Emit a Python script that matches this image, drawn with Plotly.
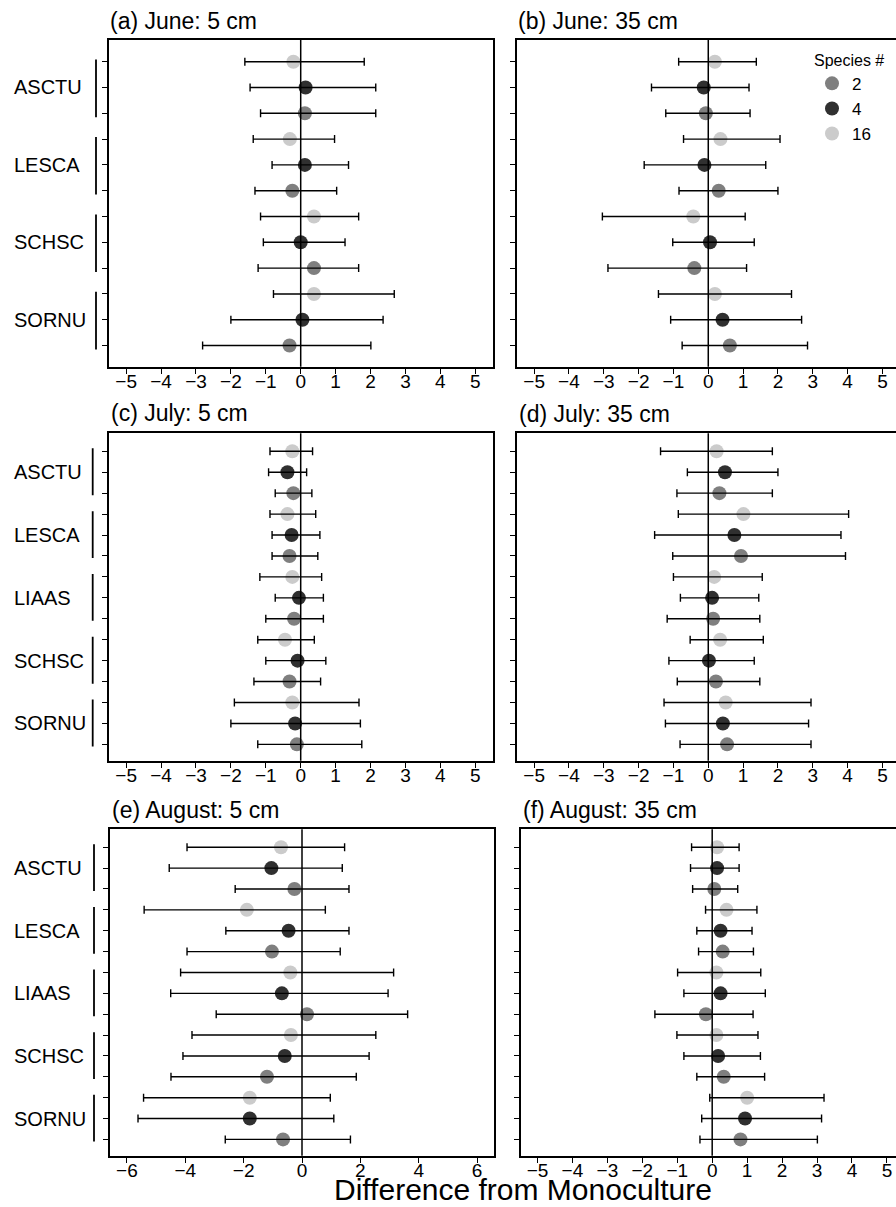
import plotly.graph_objects as go

# ---------------- data ----------------
species_june = ["ASCTU", "LESCA", "SCHSC", "SORNU"]
species_julaug = ["ASCTU", "LESCA", "LIAAS", "SCHSC", "SORNU"]
richness_levels = [2, 4, 16]          # legend order
richness_row_order = [16, 4, 2]       # order of rows inside each species block
richness_colors = {2: "#7f7f7f", 4: "#303030", 16: "#cbcbcb"}

june5_est = [-0.21, 0.14, 0.12, -0.31, 0.12, -0.24, 0.38, 0.00, 0.38, 0.38, 0.05, -0.32]
june5_lo = [-1.60, -1.45, -1.15, -1.36, -0.82, -1.31, -1.15, -1.07, -1.22, -0.78, -2.00, -2.81]
june5_hi = [1.82, 2.15, 2.15, 0.97, 1.37, 1.03, 1.66, 1.27, 1.66, 2.68, 2.36, 2.01]

june35_est = [0.19, -0.13, -0.07, 0.35, -0.11, 0.30, -0.43, 0.05, -0.40, 0.19, 0.41, 0.62]
june35_lo = [-0.85, -1.63, -1.22, -0.71, -1.84, -0.84, -3.04, -1.02, -2.88, -1.43, -1.08, -0.75]
june35_hi = [1.38, 1.17, 1.20, 2.06, 1.65, 2.00, 1.06, 1.32, 1.10, 2.39, 2.68, 2.85]

july5_est = [-0.24, -0.38, -0.21, -0.38, -0.26, -0.32, -0.24, -0.05, -0.19, -0.45, -0.09, -0.32, -0.24, -0.16, -0.11]
july5_lo = [-0.88, -0.92, -0.73, -0.88, -0.82, -0.82, -1.17, -0.73, -1.00, -1.23, -1.00, -1.34, -1.90, -2.00, -1.23]
july5_hi = [0.34, 0.17, 0.32, 0.43, 0.55, 0.49, 0.60, 0.65, 0.65, 0.39, 0.72, 0.57, 1.67, 1.71, 1.75]

july35_est = [0.24, 0.48, 0.32, 1.01, 0.75, 0.94, 0.17, 0.11, 0.14, 0.34, 0.02, 0.22, 0.50, 0.42, 0.54]
july35_lo = [-1.37, -0.60, -0.90, -0.86, -1.54, -1.02, -1.00, -0.80, -1.18, -0.52, -1.13, -0.89, -1.27, -1.23, -0.81]
july35_hi = [1.84, 2.00, 1.84, 4.03, 3.81, 3.94, 1.55, 1.45, 1.48, 1.58, 1.32, 1.48, 2.95, 2.88, 2.95]

aug5_est = [-0.72, -1.05, -0.26, -1.89, -0.46, -1.03, -0.40, -0.69, 0.17, -0.38, -0.59, -1.20, -1.79, -1.79, -0.65]
aug5_lo = [-3.94, -4.55, -2.29, -5.41, -2.61, -3.94, -4.16, -4.50, -2.94, -3.77, -4.08, -4.49, -5.43, -5.62, -2.63]
aug5_hi = [1.46, 1.38, 1.61, 0.80, 1.61, 1.31, 3.14, 2.95, 3.62, 2.53, 2.30, 1.86, 0.97, 1.09, 1.66]

aug35_est = [0.14, 0.14, 0.06, 0.41, 0.24, 0.30, 0.12, 0.24, -0.18, 0.12, 0.17, 0.33, 1.00, 0.94, 0.81]
aug35_lo = [-0.59, -0.62, -0.56, -0.19, -0.44, -0.39, -0.99, -0.81, -1.64, -1.01, -0.81, -0.44, -0.07, -0.30, -0.35]
aug35_hi = [0.77, 0.77, 0.73, 1.28, 1.14, 1.18, 1.39, 1.52, 1.17, 1.31, 1.38, 1.50, 3.20, 3.13, 3.01]

ticks_5 = [-5, -4, -3, -2, -1, 0, 1, 2, 3, 4, 5]
ticks_6 = [-6, -4, -2, 0, 2, 4, 6]

# ---------------- layout geometry ----------------
W, H = 896, 1207
FONT = "Liberation Sans, Arial, Helvetica, sans-serif"

panels = [
    dict(title="(a) June: 5 cm", species=species_june, est=june5_est, lo=june5_lo, hi=june5_hi,
         box=(108.7, 492.7, 40, 366.7), xr=[-5.5, 5.5], ticks=ticks_5, left=True,
         bar_x=96, title_x=108, title_y=20.7),
    dict(title="(b) June: 35 cm", species=species_june, est=june35_est, lo=june35_lo, hi=june35_hi,
         box=(516.7, 896, 40, 366.7), xr=[-5.5, 5.39], ticks=ticks_5, left=False,
         bar_x=None, title_x=516, title_y=20.7),
    dict(title="(c) July: 5 cm", species=species_julaug, est=july5_est, lo=july5_lo, hi=july5_hi,
         box=(108.7, 492.7, 433.3, 760.7), xr=[-5.5, 5.5], ticks=ticks_5, left=True,
         bar_x=92.7, title_x=108.7, title_y=413.3),
    dict(title="(d) July: 35 cm", species=species_julaug, est=july35_est, lo=july35_lo, hi=july35_hi,
         box=(516.7, 896, 433.3, 760.7), xr=[-5.5, 5.39], ticks=ticks_5, left=False,
         bar_x=None, title_x=517, title_y=414),
    dict(title="(e) August: 5 cm", species=species_julaug, est=aug5_est, lo=aug5_lo, hi=aug5_hi,
         box=(110, 494, 829.3, 1155.7), xr=[-6.58, 6.58], ticks=ticks_6, left=True,
         bar_x=94, title_x=110, title_y=810),
    dict(title="(f) August: 35 cm", species=species_julaug, est=aug35_est, lo=aug35_lo, hi=aug35_hi,
         box=(520.7, 896, 829.3, 1155.7), xr=[-5.48, 5.26], ticks=ticks_5, left=False,
         bar_x=None, title_x=520.7, title_y=810),
]

fig = go.Figure()
shapes = []
annotations = []
layout_axes = {}

for i, p in enumerate(panels):
    n = i + 1
    xk = "x" if n == 1 else f"x{n}"
    yk = "y" if n == 1 else f"y{n}"
    xa = "xaxis" if n == 1 else f"xaxis{n}"
    ya = "yaxis" if n == 1 else f"yaxis{n}"
    nrow = len(p["est"])
    rows = list(range(1, nrow + 1))
    rich = [richness_row_order[k % 3] for k in range(nrow)]
    if nrow == 12:
        yr = [nrow + 0.82, 0.16]
    else:
        yr = [nrow + 0.78, 0.14]
    x0, x1, y0, y1 = p["box"]

    # markers, one trace per richness level
    for r in richness_levels:
        xs = [p["est"][k] for k in range(nrow) if rich[k] == r]
        ys = [rows[k] for k in range(nrow) if rich[k] == r]
        fig.add_trace(go.Scatter(
            x=xs, y=ys, mode="markers", xaxis=xk, yaxis=yk,
            marker=dict(size=14, color=richness_colors[r], line=dict(width=0)),
            name=str(r), showlegend=(n == 1), hoverinfo="skip"))

    # error bars drawn on top of markers
    fig.add_trace(go.Scatter(
        x=p["est"], y=rows, mode="markers", xaxis=xk, yaxis=yk,
        marker=dict(size=2, opacity=0),
        error_x=dict(type="data", symmetric=False,
                     array=[h - e for h, e in zip(p["hi"], p["est"])],
                     arrayminus=[e - l for e, l in zip(p["est"], p["lo"])],
                     color="black", thickness=1.4, width=4),
        showlegend=False, hoverinfo="skip"))

    layout_axes[xa] = dict(
        domain=[x0 / W, x1 / W], range=p["xr"], anchor=yk,
        tickmode="array", tickvals=p["ticks"],
        ticktext=[("\u2212" + str(abs(t))) if t < 0 else str(t) for t in p["ticks"]],
        ticks="outside", ticklen=5, tickwidth=1.3, tickcolor="black",
        ticklabelstandoff=-9,
        showline=True, linecolor="black", linewidth=2, mirror=True,
        showgrid=False, zeroline=False,
        tickfont=dict(family=FONT, size=19, color="black"))
    layout_axes[ya] = dict(
        domain=[1 - y1 / H, 1 - y0 / H], range=yr, anchor=xk,
        tickmode="array", tickvals=rows, showticklabels=False,
        ticks="outside", ticklen=5, tickwidth=1.3, tickcolor="black",
        showline=True, linecolor="black", linewidth=2, mirror=p["left"],
        showgrid=False, zeroline=False)

    # vertical zero line
    shapes.append(dict(type="line", xref=xk, yref=f"{yk} domain", x0=0, x1=0, y0=0, y1=1,
                       line=dict(color="black", width=1.5), layer="above"))

    # panel title
    annotations.append(dict(text=p["title"], xref="paper", yref="paper",
                            x=p["title_x"] / W, y=1 - p["title_y"] / H,
                            xanchor="left", yanchor="middle", showarrow=False,
                            font=dict(family=FONT, size=23, color="black")))

    # species labels and bracket bars on the left panels
    if p["left"]:
        for g, sp in enumerate(p["species"]):
            first = g * 3 + 1
            last = g * 3 + 3
            annotations.append(dict(text=sp, xref="paper", yref=yk,
                                    x=12 / W, y=first + 1, xanchor="left", yanchor="middle",
                                    showarrow=False, font=dict(family=FONT, size=20, color="black")))
            if nrow == 12:
                b0, b1 = first - 0.08, last + 0.15
            else:
                b0, b1 = first - 0.14, last + 0.10
            shapes.append(dict(type="line", xref="paper", yref=yk,
                               x0=p["bar_x"] / W, x1=p["bar_x"] / W, y0=b0, y1=b1,
                               line=dict(color="black", width=1.8)))

annotations.append(dict(text="Difference from Monoculture", xref="paper", yref="paper",
                        x=523 / W, y=1 - 1189 / H, xanchor="center", yanchor="middle",
                        showarrow=False, font=dict(family=FONT, size=30, color="black")))

fig.update_layout(
    width=W, height=H,
    margin=dict(l=0, r=0, t=0, b=0),
    paper_bgcolor="white", plot_bgcolor="white",
    shapes=shapes, annotations=annotations,
    legend=dict(x=812 / W, y=1 - 45 / H, xanchor="left", yanchor="top",
                bgcolor="rgba(0,0,0,0)", borderwidth=0, tracegroupgap=0,
                title=dict(text="Species #", font=dict(family=FONT, size=16, color="black")),
                font=dict(family=FONT, size=17, color="black"),
                itemclick=False, itemdoubleclick=False),
    showlegend=True,
    **layout_axes,
)

fig.write_html("out.html")
